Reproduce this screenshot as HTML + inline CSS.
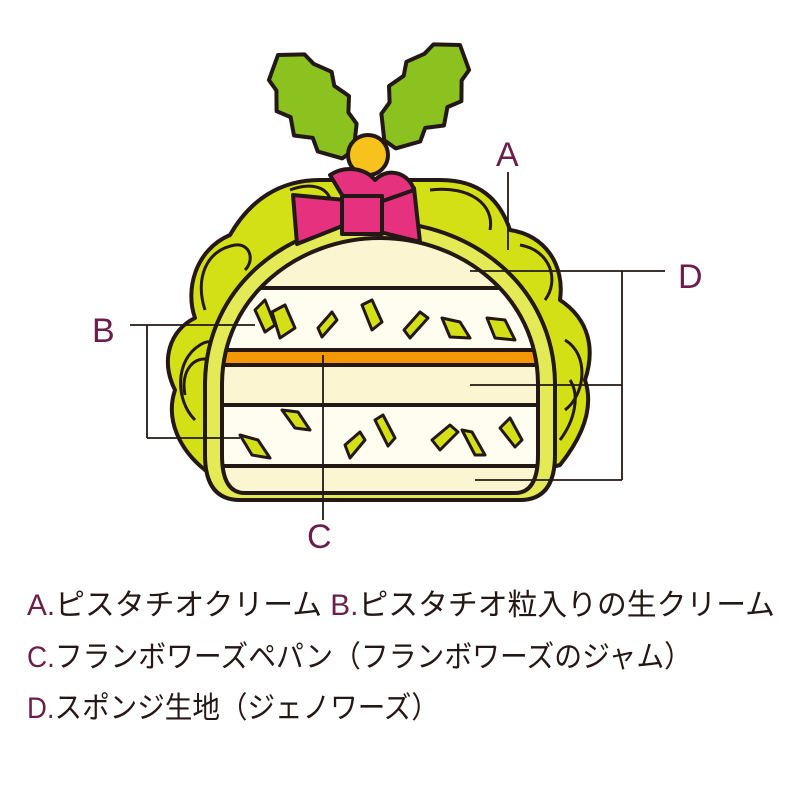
<!DOCTYPE html>
<html><head><meta charset="utf-8"><style>html,body{margin:0;padding:0;background:#fff}svg{display:block}</style></head>
<body>
<svg width="800" height="800" viewBox="0 0 800 800" xmlns="http://www.w3.org/2000/svg">
<defs>
<clipPath id="dome"><path d="M245,493 Q222,493 222,455 L222,385 C222,295 300,238 380,238 C460,238 538,295 538,385 L538,455 Q538,493 515,493 Z"/></clipPath>
</defs>
<!-- outer swirl bulges -->
<g stroke="#231815" stroke-width="4" fill="#d4e016" stroke-linejoin="round">
<path d="M205,470 C180,450 165,420 175,390 C160,360 170,330 195,318 C185,290 195,250 230,235 C250,200 280,180 320,180 L440,180 C480,180 500,200 510,230 C545,235 565,265 560,300 C590,320 595,350 585,380 C595,410 580,440 560,465 L540,470 Z"/>
</g>
<g stroke="#231815" stroke-width="3" fill="none">
<path d="M195,420 C175,400 175,360 200,345 C215,335 225,350 215,365"/>
<path d="M205,310 C195,280 205,250 235,245 C250,243 255,260 245,270"/>
<path d="M290,190 C315,180 335,190 330,210"/>
<path d="M430,190 C470,185 495,205 490,230"/>
<path d="M520,245 C550,250 560,280 545,300"/>
<path d="M565,340 C590,355 585,395 565,410"/>
<path d="M185,395 C180,370 195,355 210,360"/>
<path d="M560,440 C575,420 580,395 570,380"/>
</g>
<!-- lime arch band -->
<path d="M240,500 Q205,500 205,455 L205,385 C205,285 290,222 380,222 C470,222 555,285 555,385 L555,455 Q555,500 520,500 Z" fill="#e3ea55" stroke="#231815" stroke-width="4"/>
<!-- cake -->
<g clip-path="url(#dome)">
<rect x="200" y="220" width="360" height="280" fill="#fefdf0"/>
<rect x="200" y="220" width="360" height="68" fill="#fcf5d2"/>
<rect x="200" y="366" width="360" height="39" fill="#fcf5d2"/>
<rect x="200" y="466" width="360" height="30" fill="#fcf5d2"/>
<rect x="200" y="350" width="360" height="14" fill="#f39800"/>
<g stroke="#231815" stroke-width="4">
<line x1="200" y1="288" x2="560" y2="288"/>
<line x1="200" y1="350" x2="560" y2="350"/>
<line x1="200" y1="365" x2="560" y2="365"/>
<line x1="200" y1="405" x2="560" y2="405"/>
<line x1="200" y1="466" x2="560" y2="466"/>
</g>
<g fill="#d4e016" stroke="#231815" stroke-width="3" stroke-linejoin="round">
<path d="M255,310 L265,300 L275,325 L265,332 Z"/>
<path d="M272,312 L285,305 L295,328 L280,338 Z"/>
<path d="M318,328 L332,312 L337,320 L322,337 Z"/>
<path d="M362,305 L372,300 L382,322 L372,330 Z"/>
<path d="M404,330 L420,312 L428,318 L410,338 Z"/>
<path d="M442,318 L460,322 L470,338 L450,337 Z"/>
<path d="M487,318 L505,320 L515,340 L495,338 Z"/>
<path d="M282,410 L298,412 L310,430 L295,428 Z"/>
<path d="M240,435 L258,440 L270,458 L252,455 Z"/>
<path d="M345,445 L360,432 L365,440 L350,458 Z"/>
<path d="M375,420 L383,415 L395,438 L388,446 Z"/>
<path d="M432,440 L450,425 L458,432 L440,450 Z"/>
<path d="M462,430 L472,432 L485,455 L475,455 Z"/>
<path d="M500,428 L510,418 L522,440 L515,447 Z"/>
</g>
</g>
<path d="M245,493 Q222,493 222,455 L222,385 C222,295 300,238 380,238 C460,238 538,295 538,385 L538,455 Q538,493 515,493 Z" fill="none" stroke="#231815" stroke-width="4"/>
<!-- holly leaves -->
<g fill="#8cc21f" stroke="#231815" stroke-width="4" stroke-linejoin="round">
<path d="M278,55 L304.5,54.4 L313.6,63.8 L331.6,71.8 L334.3,85.8 L349,96 L348.4,112.4 L356.6,123.7 L353.7,150.3 L342.3,158.4 L317.8,151.5 L312.8,137.9 L294,135.5 L290.6,117.1 L276.6,111.2 L276.4,90.5 L268.9,80 Z"/>
<path d="M460,45 L433.5,44.4 L424.4,53.8 L406.4,61.8 L403.7,75.8 L389,86 L389.6,102.4 L381.4,113.7 L384.3,140.3 L395.7,148.4 L420.2,141.5 L425.2,127.9 L444,125.5 L447.4,107.1 L461.4,101.2 L461.6,80.5 L469.1,70 Z"/>
</g>
<circle cx="368" cy="155" r="20" fill="#f8c21c" stroke="#231815" stroke-width="4"/>
<!-- bow -->
<g fill="#e5317e" stroke="#231815" stroke-width="4" stroke-linejoin="round">
<path d="M293,195 L345,200 L345,225 L297,244 Z"/>
<path d="M380,200 L414,188 L420,242 L380,232 Z"/>
<path d="M330,175 C345,165 365,168 375,180 C390,165 410,175 414,190 L380,202 L345,200 Z"/>
<rect x="342" y="196" width="40" height="38"/>
</g>
<!-- leaders -->
<g stroke="#231815" stroke-width="1.8" fill="none">
<line x1="508" y1="172" x2="508" y2="250"/>
<polyline points="470,271 665,271"/>
<line x1="622" y1="271" x2="622" y2="480"/>
<line x1="470" y1="385" x2="622" y2="385"/>
<line x1="475" y1="480" x2="622" y2="480"/>
<line x1="130" y1="325" x2="255" y2="325"/>
<line x1="147" y1="325" x2="147" y2="438"/>
<line x1="147" y1="438" x2="240" y2="438"/>
<line x1="323" y1="355" x2="323" y2="520"/>
</g>
<g font-family="Liberation Sans, sans-serif" font-size="34" fill="#6b1e4a">
<text x="496" y="166">A</text>
<text x="678" y="288">D</text>
<text x="92" y="342">B</text>
<text x="307" y="548">C</text>
</g>
<g font-family="'Liberation Sans','Noto Sans CJK JP',sans-serif" font-size="30" fill="#231815">
<text x="27" y="615" textLength="748" lengthAdjust="spacingAndGlyphs"><tspan fill="#6b1e4a">A.</tspan>ピスタチオクリーム <tspan fill="#6b1e4a">B.</tspan>ピスタチオ粒入りの生クリーム</text>
<text x="27" y="667" textLength="665" lengthAdjust="spacingAndGlyphs"><tspan fill="#6b1e4a">C.</tspan>フランボワーズペパン（フランボワーズのジャム）</text>
<text x="27" y="718" textLength="412" lengthAdjust="spacingAndGlyphs"><tspan fill="#6b1e4a">D.</tspan>スポンジ生地（ジェノワーズ）</text>
</g>
</svg>
</body></html>
